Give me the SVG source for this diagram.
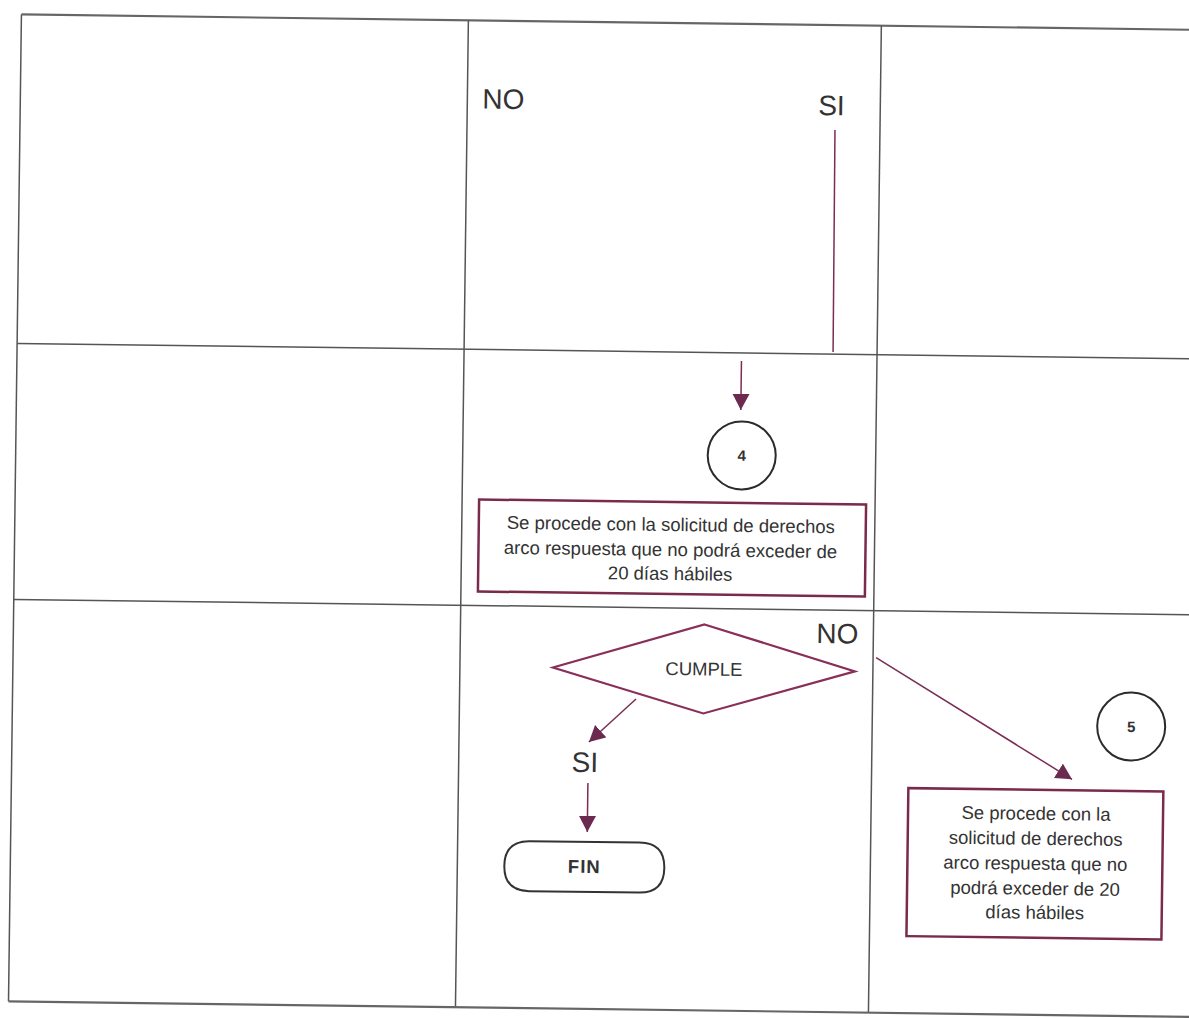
<svg xmlns="http://www.w3.org/2000/svg" width="1189" height="1018" viewBox="0 0 1189 1018">
  <style>
    .grid { stroke: #555; stroke-width: 1.5; fill: none; }
    .gridTop { stroke: #666; stroke-width: 2.2; fill: none; }
    .flow { stroke: #7b2d55; stroke-width: 1.5; fill: none; }
    .box { fill: #fff; stroke: #7a2a4a; stroke-width: 2.5; }
    .dec { fill: #fff; stroke: #8a2f5a; stroke-width: 2.2; }
    .conn { fill: #fff; stroke: #2b2b2b; stroke-width: 2; }
    .term { fill: #fff; stroke: #333; stroke-width: 2; }
    .t { font-family: "Liberation Sans", Arial, sans-serif; fill: #333; }
    .lbl { font-size: 28px; }
    .body { font-size: 18.5px; text-anchor: middle; }
    .num { font-size: 15px; font-weight: bold; text-anchor: middle; }
  </style>
  <defs>
    <marker id="arrow" markerUnits="userSpaceOnUse" markerWidth="18" markerHeight="18" refX="16" refY="8.5" orient="auto">
      <path d="M0,0 L16,8.5 L0,17 Z" fill="#6b2a50"/>
    </marker>
  </defs>
  <rect width="1189" height="1018" fill="#fff"/>
  <g transform="rotate(0.75 595 509)">
    <!-- swimlane grid -->
    <g id="grid">
      <line class="gridTop" x1="15" y1="22" x2="1210" y2="22"/>
      <line class="grid" x1="15" y1="22" x2="15" y2="1009"/>
      <line class="grid" x1="462" y1="22" x2="462" y2="1009"/>
      <line class="grid" x1="875" y1="22" x2="875" y2="1009"/>
      <line class="grid" x1="15" y1="351" x2="1210" y2="351"/>
      <line class="grid" x1="15" y1="607" x2="1210" y2="607"/>
      <line class="gridTop" x1="15" y1="1009" x2="1210" y2="1009"/>
    </g>

    <!-- branch labels -->
    <g id="labels">
      <text class="t lbl" x="477" y="110">NO</text>
      <text class="t lbl" x="813" y="112">SI</text>
      <text class="t lbl" x="818" y="640">NO</text>
      <text class="t lbl" x="575" y="772">SI</text>
    </g>

    <!-- connectors -->
    <g id="connectors">
      <line class="flow" x1="830" y1="127" x2="831" y2="349"/>
      <line class="flow" x1="739.5" y1="359" x2="739.5" y2="408" marker-end="url(#arrow)"/>
      <line class="flow" x1="638.5" y1="698.5" x2="592" y2="742" marker-end="url(#arrow)"/>
      <line class="flow" x1="591.5" y1="783" x2="591.5" y2="832" marker-end="url(#arrow)"/>
      <line class="flow" x1="878" y1="654" x2="1075.5" y2="773" marker-end="url(#arrow)"/>
    </g>

    <g id="connector4">
      <circle class="conn" cx="741" cy="453.5" r="34"/>
      <text class="t num" x="741" y="459">4</text>
    </g>

    <g id="process1">
      <rect class="box" x="479" y="501" width="387" height="92"/>
      <text class="t body" x="671" y="530">Se procede con la solicitud de derechos</text>
      <text class="t body" x="671" y="555">arco respuesta que no podrá exceder de</text>
      <text class="t body" x="671" y="579">20 días hábiles</text>
    </g>

    <g id="decision">
      <polygon class="dec" points="706,623 857,668 706,712 555,668"/>
      <text class="t" x="706" y="674" font-size="18.5" text-anchor="middle">CUMPLE</text>
    </g>

    <g id="end">
      <path class="term" d="M534,842 H644 Q669,842 669,867 Q669,892 644,892 H534 Q509,892 509,867 Q509,842 534,842 Z"/>
      <text class="t" x="589" y="873" font-size="18.5" font-weight="bold" text-anchor="middle" letter-spacing="1">FIN</text>
    </g>

    <g id="connector5">
      <circle class="conn" cx="1134" cy="719.5" r="34"/>
      <text class="t num" x="1134" y="725">5</text>
    </g>

    <g id="process2">
      <rect class="box" x="912" y="784" width="255" height="148"/>
      <text class="t body" x="1040" y="814">Se procede con la</text>
      <text class="t body" x="1040" y="839">solicitud de derechos</text>
      <text class="t body" x="1040" y="864">arco respuesta que no</text>
      <text class="t body" x="1040" y="889">podrá exceder de 20</text>
      <text class="t body" x="1040" y="913">días hábiles</text>
    </g>
  </g>
</svg>
